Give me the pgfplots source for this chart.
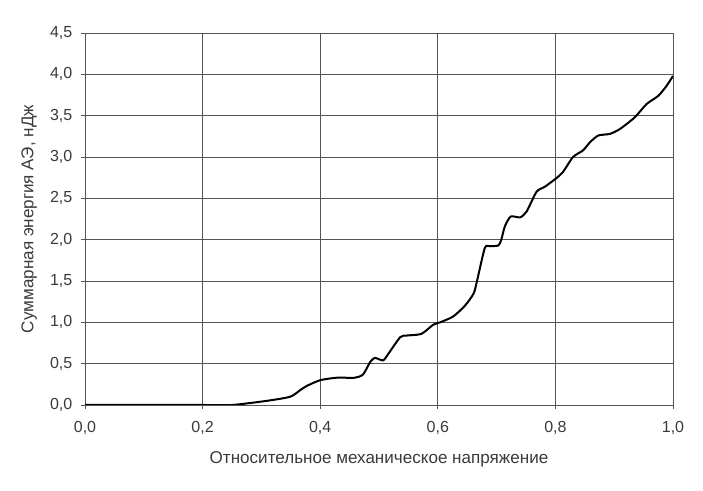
\documentclass[border=0pt]{standalone}
\usepackage{fontspec}
\setmainfont{Liberation Sans}
\usepackage{pgfplots}
\pgfplotsset{compat=1.18}
\usetikzlibrary{calc}
\definecolor{txt}{HTML}{3A3A3A}
\definecolor{grd}{HTML}{555555}

\begin{document}
\begin{tikzpicture}
\begin{axis}[
    name=ax,
    scale only axis,
    width=441pt,
    height=279pt,
    xmin=0, xmax=1,
    ymin=0, ymax=4.5,
    xtick={0,0.2,...,1.0},
    ytick={0,0.5,...,4.5},
    /pgf/number format/assume math mode=true,
    ticklabel style={font=\fontsize{12}{14}\selectfont, text=txt},
    label style={font=\fontsize{12.8}{15}\selectfont, text=txt},
    xticklabel style={yshift=-6pt, /pgf/number format/.cd, fixed, fixed zerofill, precision=1, use comma},
    yticklabel style={xshift=-3pt, /pgf/number format/.cd, fixed, fixed zerofill, precision=1, use comma},
    xlabel={Относительное механическое напряжение},
    ylabel={Суммарная энергия АЭ, нДж},
    xlabel style={yshift=-6pt},
    ylabel style={yshift=3pt},
    grid=major,
    major grid style={grd, line width=0.6pt},
    axis line style={grd, line width=0.6pt},
    tick style={grd, line width=0.6pt},
    tick align=outside,
    major tick length=3pt,
    axis x line*=bottom,
    axis y line*=left,
]
\addplot[black, line width=1.5pt, smooth, tension=0.4] coordinates {
    (0,0) (0.20,0) (0.25,0) (0.309,0.05) (0.349,0.10) (0.366,0.18)
    (0.377,0.23) (0.40,0.30) (0.428,0.33) (0.459,0.33) (0.473,0.37)
    (0.485,0.52) (0.493,0.57) (0.507,0.54) (0.516,0.62) (0.536,0.82)
    (0.547,0.84) (0.572,0.86) (0.592,0.97) (0.604,1.00) (0.626,1.07)
    (0.646,1.20) (0.661,1.35) (0.667,1.51) (0.680,1.90) (0.689,1.92)
    (0.703,1.93) (0.708,2.00) (0.714,2.16) (0.724,2.28) (0.740,2.27)
    (0.751,2.34) (0.768,2.58) (0.782,2.64) (0.801,2.74) (0.813,2.82)
    (0.830,3.00) (0.847,3.08) (0.859,3.18) (0.873,3.26) (0.893,3.28)
    (0.910,3.34) (0.935,3.48) (0.955,3.64) (0.975,3.74) (0.989,3.86)
    (1.0,3.98)
};
\end{axis}
\path[use as bounding box] ($(ax.south west)+(-63.75pt,-64.5pt)$) rectangle ($(ax.north east)+(22.5pt,24.75pt)$);
\end{tikzpicture}
\end{document}
